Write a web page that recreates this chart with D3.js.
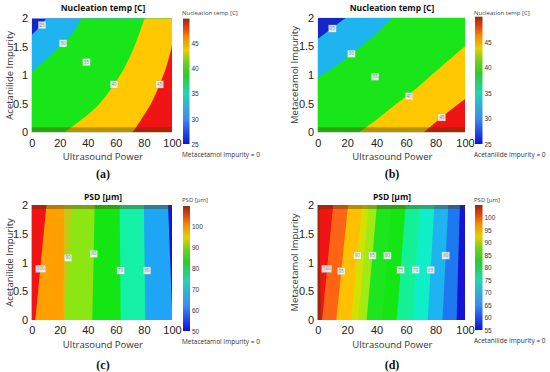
<!DOCTYPE html>
<html>
<head>
<meta charset="utf-8">
<script src="https://cdn.jsdelivr.net/npm/d3@7"></script>
<style>
  body { margin: 0; background: #fff; }
  svg { display: block; font-family: "Open Sans", "Noto Sans", sans-serif; }
</style>
</head>
<body>
<svg id="fig" width="550" height="372"></svg>
<script>
// ---- data (x: ultrasound power 0-100, y: impurity 0-2) ----
const xTicks = [0, 20, 40, 60, 80, 100];
const yTicks = [0, 0.5, 1, 1.5, 2];

// (a) nucleation temp vs acetanilide impurity, boundaries from low to high
const levelsA = [25, 30, 40, 45];
const boundariesA = [
  [[0, 1.71], [5, 1.83], [10.5, 2]],
  [[0, 1.05], [11, 1.3], [22.3, 1.56], [30, 1.77], [35.5, 2]],
  [[23, 0], [30, 0.12], [42, 0.35], [50, 0.55], [58.7, 0.84], [66, 1.13], [73, 1.49], [80.5, 2]],
  [[72, 0], [80, 0.3], [86, 0.55], [91.2, 0.84], [96, 1.15], [100, 1.52]]
];
const labelsA = [[7.4, 1.88, '25'], [22.3, 1.56, '30'], [39, 1.23, '35'], [58.7, 0.84, '40'], [91.2, 0.84, '45']];

// (b) nucleation temp vs metacetamol impurity
const levelsB = [25, 30, 40, 45];
const boundariesB = [
  [[0, 1.63], [19, 2]],
  [[0, 0.96], [12, 1.15], [23, 1.37], [37, 1.66], [50.7, 2]],
  [[28, 0], [39, 0.2], [53, 0.49], [62, 0.66], [73, 0.9], [86, 1.19], [100, 1.5]],
  [[72, 0], [84, 0.26], [100, 0.58]]
];
const labelsB = [[10, 1.81, '25'], [22.9, 1.37, '30'], [38.9, 0.97, '35'], [62, 0.63, '40'], [84.2, 0.26, '45']];

// (c) PSD vs acetanilide impurity
const levelsC = [52, 60, 70, 80, 88, 90, 100];
const boundariesC = [
  [[100, 0.2], [97.2, 2]],
  [[81, 0], [80, 2]],
  [[63.4, 0], [62.7, 2]],
  [[43.2, 0], [44.9, 2]],
  [[23.5, 0], [28.3, 2]],
  [[22.8, 0], [23, 2]],
  [[2.6, 0], [10.5, 2]]
];
const labelsC = [[6.4, 0.89, '100'], [25.9, 1.08, '90'], [44.2, 1.15, '80'], [63.4, 0.86, '70'], [82.2, 0.86, '60']];

// (d) PSD vs metacetamol impurity
const levelsD = [55, 60, 65, 70, 75, 80, 85, 87.5, 90, 95, 100, 105];
const boundariesD = [
  [[94.3, 0], [96.5, 2]],
  [[84.7, 0], [88.7, 2]],
  [[74.7, 0], [79.2, 2]],
  [[64.3, 0], [69.3, 2]],
  [[53.7, 0], [59.7, 2]],
  [[43.7, 0], [50.2, 2]],
  [[33.2, 0], [40.2, 2]],
  [[27.5, 0], [34.5, 2]],
  [[22.7, 0], [30.2, 2]],
  [[12.6, 0], [20.6, 2]],
  [[3, 0], [10.5, 2]],
  [[2.2, 0], [1, 2]]
];
const labelsD = [[6.1, 0.89, '100'], [16, 0.85, '95'], [26.9, 1.12, '90'], [37.1, 1.12, '85'], [47.3, 1.12, '80'],
  [56.3, 0.87, '75'], [66.5, 0.87, '70'], [76.7, 0.87, '65'], [86.9, 1.12, '60']];

const cbarTicksNuc = [25, 30, 35, 40, 45];
const cbarTicksPsdC = [50, 60, 70, 80, 90, 100];
const cbarTicksPsdD = [55, 60, 65, 70, 75, 80, 85, 90, 95, 100];

// ---- styles ----
const nucColors = ['#1428c8', '#1eb4f0', '#19e619', '#ffc800', '#f01414'];
const psdColorsC = ['#1414d2', '#1ea5f5', '#14f0a5', '#14e614', '#8ce614', '#c8c814', '#ffa000', '#f01414'];
const psdColorsD = ['#1414d2', '#1e78f0', '#1eb4f0', '#10eec8', '#14f096', '#14e614', '#1ee61e', '#a0eb14',
  '#d2e100', '#ffc000', '#ff6414', '#f01414', '#a0280a'];
const jetStops = [[0, '#1010d8'], [0.2, '#3c8cf0'], [0.4, '#28d2b4'], [0.55, '#2ccc2c'], [0.65, '#6cd020'],
  [0.75, '#e6d000'], [0.85, '#f08c00'], [0.93, '#e04010'], [1, '#8c3010']];

const svg = d3.select('#fig');
const defs = svg.append('defs');

const grad = defs.append('linearGradient').attr('id', 'jet')
  .attr('x1', 0).attr('y1', 1).attr('x2', 0).attr('y2', 0);
grad.selectAll('stop').data(jetStops).join('stop')
  .attr('offset', d => d[0]).attr('stop-color', d => d[1]);

// position of a boundary end on the plot perimeter (0..4, counter-clockwise from bottom-left)
function perimT(p) {
  const u = p[0] / 100, v = p[1] / 2, e = 1e-9;
  if (v <= e) return u;
  if (u >= 1 - e) return 1 + v;
  if (v >= 1 - e) return 2 + (1 - u);
  return 3 + (1 - v);
}
const cornerPts = [[0, 0], [100, 0], [100, 2], [0, 2]];

function walk(ts, te, dir) {
  const out = [];
  if (dir > 0) {
    const end = te <= ts ? te + 4 : te;
    for (let k = Math.floor(ts) + 1; k < end; k++) out.push(cornerPts[k % 4]);
  } else {
    const end = te >= ts ? te - 4 : te;
    for (let k = Math.ceil(ts) - 1; k > end; k--) out.push(cornerPts[((k % 4) + 4) % 4]);
  }
  return out;
}

// corners that close a boundary on its high-value side
function highSide(line, hp) {
  const ts = perimT(line[line.length - 1]), te = perimT(line[0]);
  for (const dir of [1, -1]) {
    const c = walk(ts, te, dir);
    if (d3.polygonContains(line.concat(c), hp)) return c;
  }
  return [];
}

function drawPanel(cfg) {
  const x = d3.scaleLinear().domain([0, 100]).range([cfg.left, cfg.right]);
  const y = d3.scaleLinear().domain([0, 2]).range([cfg.bottom, cfg.top]);
  const g = svg.append('g');

  defs.append('clipPath').attr('id', 'clip-' + cfg.id)
    .append('rect')
    .attr('x', cfg.left).attr('y', cfg.top)
    .attr('width', cfg.right - cfg.left).attr('height', cfg.bottom - cfg.top);

  const plot = g.append('g').attr('clip-path', 'url(#clip-' + cfg.id + ')');
  plot.append('rect')
    .attr('x', cfg.left).attr('y', cfg.top)
    .attr('width', cfg.right - cfg.left).attr('height', cfg.bottom - cfg.top)
    .attr('fill', cfg.colors[0]);

  const edge = d3.line().x(d => x(d[0])).y(d => y(d[1])).curve(d3.curveCatmullRom);
  cfg.boundaries.forEach((b, i) => {
    const corners = highSide(b, cfg.highPoint);
    const rest = corners.map(c => 'L' + x(c[0]) + ',' + y(c[1])).join('');
    plot.append('path')
      .attr('d', edge(b) + rest + 'Z')
      .attr('fill', cfg.colors[i + 1])
      .attr('data-level', cfg.levels[i]);
  });

  // darker rim of the surface plot
  plot.append('rect')
    .attr('x', cfg.left).attr('width', cfg.right - cfg.left)
    .attr('y', cfg.rim === 'bottom' ? cfg.bottom - 5 : cfg.top)
    .attr('height', cfg.rim === 'bottom' ? 5 : 4)
    .attr('fill', '#4a3a00').attr('opacity', 0.38);

  // contour labels
  const lab = g.selectAll('.clab').data(cfg.labels).join('g')
    .attr('transform', d => 'translate(' + x(d[0]) + ',' + y(d[1]) + ')');
  lab.append('rect')
    .attr('x', d => d[2].length > 2 ? -5 : -3.8).attr('y', -3.6)
    .attr('width', d => d[2].length > 2 ? 10 : 7.6).attr('height', 7.2)
    .attr('fill', '#fff').attr('fill-opacity', 0.82)
    .attr('stroke', '#9aa').attr('stroke-width', 0.3);
  lab.append('text')
    .attr('text-anchor', 'middle').attr('dy', '0.35em')
    .attr('font-size', 4.5).attr('fill', '#6a8a98')
    .text(d => d[2]);

  // axes
  const ax = g.append('g').attr('transform', 'translate(0,' + cfg.bottom + ')')
    .call(d3.axisBottom(x).tickValues(xTicks).tickSize(0).tickPadding(6.5));
  ax.select('.domain').remove();
  ax.selectAll('text').attr('font-size', 11).attr('fill', '#222').attr('font-family', null);

  const ay = g.append('g').attr('transform', 'translate(' + cfg.left + ',0)')
    .call(d3.axisLeft(y).tickValues(yTicks).tickSize(0).tickPadding(3.5).tickFormat(d3.format('')));
  ay.select('.domain').remove();
  ay.selectAll('text').attr('font-size', 11).attr('fill', '#222').attr('font-family', null);

  g.append('text')
    .attr('x', (cfg.left + cfg.right) / 2 + 1).attr('y', cfg.bottom + 28)
    .attr('text-anchor', 'middle').attr('font-size', 9.5).attr('fill', '#333')
    .text('Ultrasound Power');

  g.append('text')
    .attr('transform', 'translate(' + cfg.yLabelX + ',' + (cfg.top + cfg.bottom) / 2 + ') rotate(-90)')
    .attr('text-anchor', 'middle').attr('dy', '0.35em')
    .attr('font-size', 9.5).attr('fill', '#333')
    .text(cfg.yLabel);

  g.append('text')
    .attr('x', cfg.titleX).attr('y', cfg.titleY)
    .attr('text-anchor', 'middle').attr('font-size', 8.5).attr('font-weight', 'bold').attr('fill', '#111')
    .text(cfg.title);

  g.append('text')
    .attr('x', cfg.titleX).attr('y', cfg.letterY)
    .attr('text-anchor', 'middle').attr('font-size', 12).attr('font-weight', 'bold')
    .attr('font-family', '"Liberation Serif", "DejaVu Serif", serif').attr('fill', '#111')
    .text(cfg.letter);

  // colour bar
  const cb = cfg.cbar;
  const c = d3.scaleLinear().domain(cb.domain).range([cb.bottom, cb.top]);
  g.append('rect')
    .attr('x', cb.x).attr('y', cb.top).attr('width', cb.w).attr('height', cb.bottom - cb.top)
    .attr('fill', 'url(#jet)');
  const ac = g.append('g').attr('transform', 'translate(' + (cb.x + cb.w) + ',0)')
    .call(d3.axisRight(c).tickValues(cb.ticks).tickSize(0).tickPadding(2));
  ac.select('.domain').remove();
  ac.selectAll('text').attr('font-size', 6.5).attr('fill', '#333').attr('font-family', null);

  g.append('text')
    .attr('x', cb.x - 1).attr('y', cb.titleY)
    .attr('font-size', 6).attr('fill', '#444')
    .text(cfg.cbarTitle);
  g.append('text')
    .attr('x', cb.x - 1).attr('y', cb.noteY)
    .attr('font-size', 6.5).attr('fill', '#333')
    .text(cfg.note);
}

drawPanel({
  id: 'a', left: 31.7, right: 172, top: 18.3, bottom: 132.3, rim: 'bottom',
  levels: levelsA, boundaries: boundariesA, labels: labelsA, colors: nucColors, highPoint: [99.9, 0.01],
  title: 'Nucleation temp [C]', titleX: 103, titleY: 10.5, letter: '(a)', letterY: 177.5,
  yLabel: 'Acetanilide Impurity', yLabelX: 9.3,
  cbarTitle: 'Nucleation temp [C]', note: 'Metacetamol Impurity = 0',
  cbar: { x: 183, w: 6.5, top: 18.6, bottom: 144, domain: [25, 50], ticks: cbarTicksNuc, titleY: 14.5, noteY: 156.5 }
});

drawPanel({
  id: 'b', left: 317.7, right: 465, top: 17.7, bottom: 132.3, rim: 'bottom',
  levels: levelsB, boundaries: boundariesB, labels: labelsB, colors: nucColors, highPoint: [99.9, 0.01],
  title: 'Nucleation temp [C]', titleX: 392, titleY: 10.5, letter: '(b)', letterY: 177.5,
  yLabel: 'Metacetamol Impurity', yLabelX: 295,
  cbarTitle: 'Nucleation temp [C]', note: 'Acetanilide Impurity = 0',
  cbar: { x: 475, w: 7.5, top: 16.7, bottom: 144, domain: [25, 50], ticks: cbarTicksNuc, titleY: 14.5, noteY: 156.5 }
});

drawPanel({
  id: 'c', left: 31.7, right: 172, top: 205, bottom: 320, rim: 'top',
  levels: levelsC, boundaries: boundariesC, labels: labelsC, colors: psdColorsC, highPoint: [0.05, 1],
  title: 'PSD [µm]', titleX: 103, titleY: 199.5, letter: '(c)', letterY: 368.5,
  yLabel: 'Acetanilide Impurity', yLabelX: 9.3,
  cbarTitle: 'PSD [µm]', note: 'Metacetamol Impurity = 0',
  cbar: { x: 183, w: 7, top: 206, bottom: 331, domain: [50, 110], ticks: cbarTicksPsdC, titleY: 201.5, noteY: 343.5 }
});

drawPanel({
  id: 'd', left: 317.7, right: 465, top: 205, bottom: 320, rim: 'top',
  levels: levelsD, boundaries: boundariesD, labels: labelsD, colors: psdColorsD, highPoint: [0.05, 1],
  title: 'PSD [µm]', titleX: 392, titleY: 199.5, letter: '(d)', letterY: 368.5,
  yLabel: 'Metacetamol Impurity', yLabelX: 295,
  cbarTitle: 'PSD [µm]', note: 'Acetanilide Impurity = 0',
  cbar: { x: 475, w: 7.5, top: 205, bottom: 330, domain: [55, 105], ticks: cbarTicksPsdD, titleY: 201.5, noteY: 342.5 }
});
</script>
</body>
</html>
